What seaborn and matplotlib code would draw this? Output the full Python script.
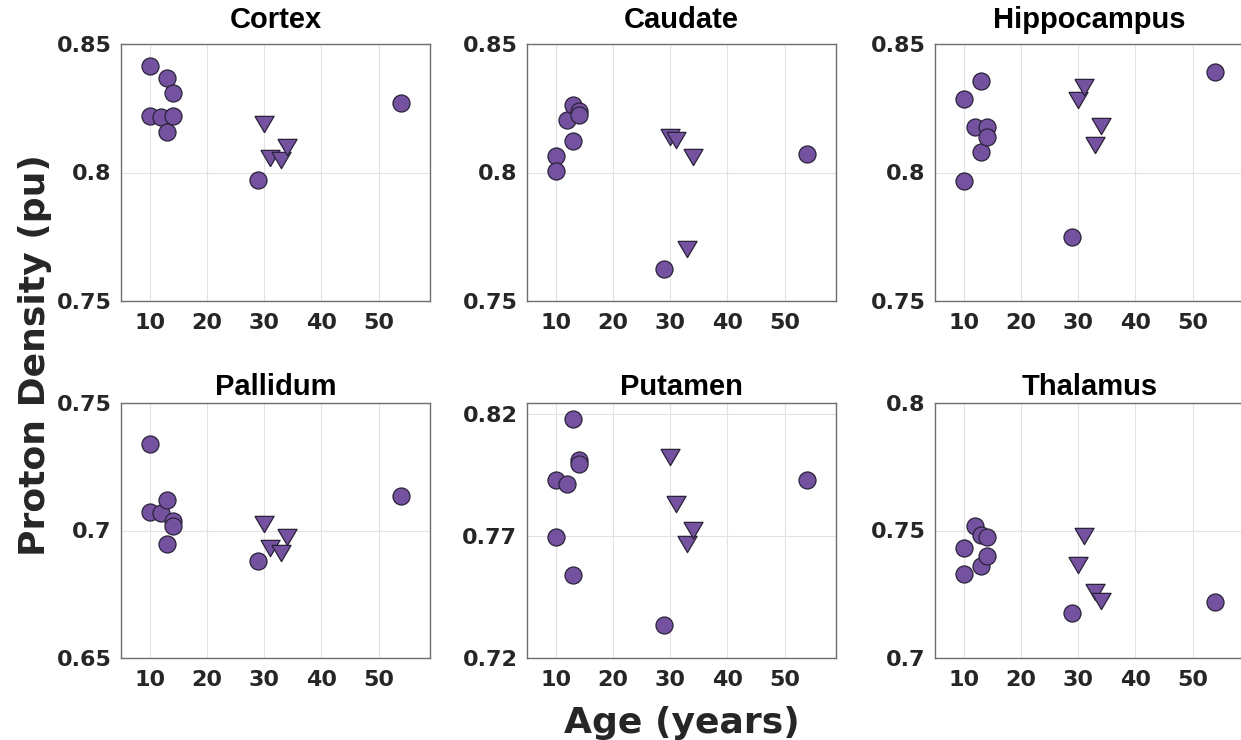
import numpy as np
import pandas as pd
import matplotlib
matplotlib.use("Agg")
import matplotlib.pyplot as plt
import seaborn as sns

# ---------------- data ----------------
regions = ["Cortex", "Caudate", "Hippocampus", "Pallidum", "Putamen", "Thalamus"]

ages_circle = [10, 10, 12, 13, 13, 14, 14, 29, 54]
ages_triangle = [30, 31, 33, 34]

cortex_circle = [0.8414, 0.8221, 0.8217, 0.8367, 0.8159, 0.8309, 0.8221, 0.7971, 0.8272]
cortex_triangle = [0.8188, 0.8058, 0.8049, 0.8098]

caudate_circle = [0.8064, 0.8005, 0.8204, 0.8263, 0.8123, 0.8240, 0.8225, 0.7623, 0.8071]
caudate_triangle = [0.8138, 0.8126, 0.7702, 0.8059]

hippocampus_circle = [0.8286, 0.7967, 0.8178, 0.8357, 0.8081, 0.8178, 0.8139, 0.7748, 0.8392]
hippocampus_triangle = [0.8281, 0.8334, 0.8108, 0.8181]

pallidum_circle = [0.7338, 0.7072, 0.7068, 0.7121, 0.6949, 0.7038, 0.7019, 0.6880, 0.7135]
pallidum_triangle = [0.7027, 0.6932, 0.6911, 0.6976]

putamen_circle = [0.7928, 0.7693, 0.7911, 0.8176, 0.7541, 0.8010, 0.7994, 0.7333, 0.7928]
putamen_triangle = [0.8023, 0.7829, 0.7665, 0.7723]

thalamus_circle = [0.7431, 0.7329, 0.7518, 0.7482, 0.7359, 0.7474, 0.7400, 0.7175, 0.7218]
thalamus_triangle = [0.7364, 0.7479, 0.7260, 0.7225]

circle_values = [cortex_circle, caudate_circle, hippocampus_circle,
                 pallidum_circle, putamen_circle, thalamus_circle]
triangle_values = [cortex_triangle, caudate_triangle, hippocampus_triangle,
                   pallidum_triangle, putamen_triangle, thalamus_triangle]

y_ticks = [[0.75, 0.80, 0.85], [0.75, 0.80, 0.85], [0.75, 0.80, 0.85],
           [0.65, 0.70, 0.75], [0.72, 0.77, 0.82], [0.70, 0.75, 0.80]]
y_limits = [(0.75, 0.85), (0.75, 0.85), (0.75, 0.85),
            (0.65, 0.75), (0.72, 0.8243), (0.70, 0.80)]
x_ticks = [10, 20, 30, 40, 50]
x_limits = (5, 59)

# ---------------- style ----------------
sns.set_theme(style="white")
plt.rcParams["font.family"] = ["DejaVu Sans"]

W, H = 1241, 740
fig = plt.figure(figsize=(W / 100, H / 100), dpi=100)

col_left = [121, 527, 935]
row_top = [44, 403]
row_h = [257, 255]
ax_w = 309

face = "#7452a0"
edge = "#2a2238"
tri_marker = [(-1, 0.85), (1, 0.85), (0, -0.85), (-1, 0.85)]

for i, name in enumerate(regions):
    r, c = divmod(i, 3)
    left = col_left[c] / W
    bottom = 1 - (row_top[r] + row_h[r]) / H
    ax = fig.add_axes([left, bottom, ax_w / W, row_h[r] / H])

    df = pd.DataFrame({
        "age": ages_circle + ages_triangle,
        "pd": circle_values[i] + triangle_values[i],
        "group": ["circle"] * len(ages_circle) + ["triangle"] * len(ages_triangle),
    })
    sns.scatterplot(data=df[df.group == "circle"], x="age", y="pd", ax=ax,
                    marker="o", s=150, color=face, edgecolor=edge, linewidth=0.9,
                    legend=False, zorder=3)
    sns.scatterplot(data=df[df.group == "triangle"], x="age", y="pd", ax=ax,
                    marker=tri_marker, s=190, color=face, edgecolor=edge, linewidth=0.9,
                    legend=False, zorder=3)

    ax.set_xlim(*x_limits)
    ax.set_ylim(*y_limits[i])
    ax.set_xticks(x_ticks)
    ax.set_yticks(y_ticks[i])
    ax.set_yticklabels([f"{v:g}" for v in y_ticks[i]])
    ax.set_xlabel("")
    ax.set_ylabel("")
    ax.grid(True, color="#e2e2e2", linewidth=0.8, zorder=0)
    ax.set_axisbelow(True)
    for sp in ax.spines.values():
        sp.set_color("#6e6e6e")
        sp.set_linewidth(1.0)
        sp.set_visible(True)
    ax.tick_params(axis="both", length=0, labelsize=16, labelcolor="#262626")
    ax.tick_params(axis="x", pad=8.5)
    ax.tick_params(axis="y", pad=7)
    for lab in ax.get_xticklabels() + ax.get_yticklabels():
        lab.set_fontweight("bold")
    ax.set_title(name, fontsize=21, fontweight="bold", color="black",
                 family=["Liberation Sans", "DejaVu Sans"],
                 pad=11.5 if r == 0 else 5.8)

fig.text(682 / W, 1 - 733 / H, "Age (years)", ha="center", va="baseline",
         fontsize=26, fontweight="bold", color="#262626")
fig.text(35 / W, 1 - 355 / H, "Proton Density (pu)", ha="center", va="center",
         rotation=90, fontsize=26, fontweight="bold", color="#262626")

fig.savefig("out.png", dpi=100)
